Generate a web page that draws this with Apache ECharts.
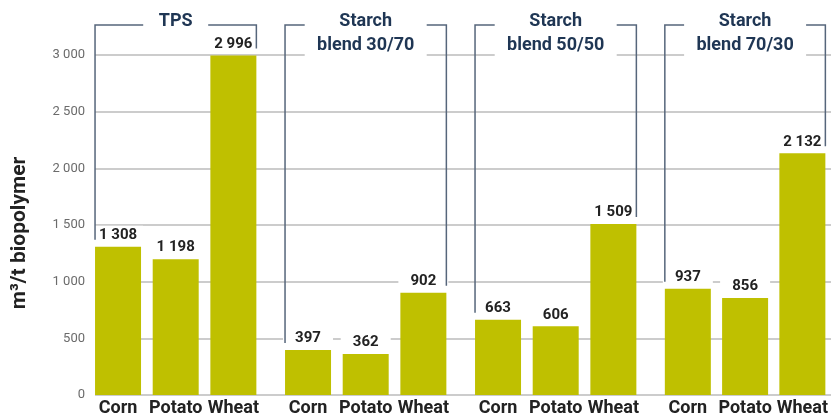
<!DOCTYPE html>
<html>
<head>
<meta charset="utf-8">
<script src="https://cdn.jsdelivr.net/npm/echarts@6/dist/echarts.min.js"></script>
<style>
  html, body { margin: 0; padding: 0; background: #ffffff; }
  #chart { width: 831px; height: 417px; }
</style>
</head>
<body>
<div id="chart"></div>
<script>
// Biogas yield per tonne of biopolymer, by starch source and blend
const categories = ['Corn', 'Potato', 'Wheat'];
const groupTitles = ['TPS', 'Starch\nblend 30/70', 'Starch\nblend 50/50', 'Starch\nblend 70/30'];
const tpsValues = [1308, 1198, 2996];
const blend3070Values = [397, 362, 902];
const blend5050Values = [663, 606, 1509];
const blend7030Values = [937, 856, 2132];
const yAxisName = 'm³/t biopolymer';
const yMin = 0;
const yMax = 3000;
const yStep = 500;

const groups = [tpsValues, blend3070Values, blend5050Values, blend7030Values];

// layout
const FONT = 'Roboto, "Noto Sans", sans-serif';
const GRID_TOP = 55;
const GRID_BOTTOM = 22;
const GROUP_LEFT = 89.2;
const GROUP_PITCH = 190;
const GROUP_WIDTH = 173;
const BAR_WIDTH = 46;
const BAR_COLOR = '#bfc000';
const BRACKET_COLOR = '#56667b';
const TITLE_COLOR = '#1f3654';

const fmt = n => String(n).replace(/\B(?=(\d{3})+(?!\d))/g, ' ');

const grids = [{ left: 95, right: 0, top: GRID_TOP, bottom: GRID_BOTTOM }];
const xAxes = [{ gridIndex: 0, type: 'value', show: false, min: 0, max: 1 }];
const yAxes = [{
  gridIndex: 0,
  type: 'value',
  min: yMin,
  max: yMax,
  interval: yStep,
  axisLine: { show: false },
  axisTick: { show: false },
  axisLabel: { color: '#6b6b6b', fontSize: 13, fontFamily: FONT, margin: 10, formatter: v => fmt(v) },
  splitLine: { lineStyle: { color: '#cccccc', width: 2 } },
  name: yAxisName,
  nameLocation: 'middle',
  nameGap: 65,
  nameTextStyle: { fontSize: 21, fontWeight: 'bold', color: '#222222', fontFamily: FONT, padding: [0, 16, 0, 0] }
}];
const series = [];

groups.forEach((values, i) => {
  const gi = i + 1;
  grids.push({ left: GROUP_LEFT + GROUP_PITCH * i, width: GROUP_WIDTH, top: GRID_TOP, bottom: GRID_BOTTOM });
  xAxes.push({
    gridIndex: gi,
    type: 'category',
    data: categories,
    axisLine: { show: false },
    axisTick: { show: false },
    axisLabel: { color: '#222222', fontSize: 18, fontWeight: 'bold', fontFamily: FONT, margin: 4, interval: 0 }
  });
  yAxes.push({ gridIndex: gi, type: 'value', min: yMin, max: yMax, interval: yStep, show: false });

  series.push({
    type: 'bar',
    xAxisIndex: gi,
    yAxisIndex: gi,
    data: values,
    barWidth: BAR_WIDTH,
    itemStyle: { color: BAR_COLOR },
    z: 2,
    label: {
      show: true,
      position: 'top',
      distance: 3,
      formatter: p => fmt(p.value),
      color: '#222222',
      fontSize: 15,
      fontWeight: 'bold',
      fontFamily: FONT,
      backgroundColor: '#ffffff',
      width: 48,
      align: 'center',
      padding: [2, 1, 1, 1]
    }
  });

  // bracket with the group title above each group
  const title = groupTitles[i];
  series.push({
    type: 'custom',
    xAxisIndex: gi,
    yAxisIndex: gi,
    silent: true,
    clip: false,
    z: 5,
    data: [[0, values[0], values[2]]],
    renderItem: (params, api) => {
      const cs = params.coordSys;
      const half = BAR_WIDTH / 2;
      const first = api.coord([0, api.value(1)]);
      const last = api.coord([categories.length - 1, api.value(2)]);
      const mid = api.coord([1, 0]);
      const topY = cs.y - 30;
      const lines = title.split('\n').length;
      const boxW = lines > 1 ? 122 : 65;
      const boxH = lines > 1 ? 48 : 22;
      return {
        type: 'group',
        children: [
          {
            type: 'polyline',
            shape: { points: [
              [first[0] - half, first[1] - 7],
              [first[0] - half, topY],
              [last[0] + half, topY],
              [last[0] + half, last[1] - 7]
            ] },
            style: { stroke: BRACKET_COLOR, lineWidth: 1.5, fill: null }
          },
          {
            type: 'rect',
            shape: { x: mid[0] - boxW / 2, y: 11, width: boxW, height: boxH },
            style: { fill: '#ffffff' }
          },
          {
            type: 'text',
            style: {
              text: title,
              x: mid[0],
              y: 9,
              align: 'center',
              verticalAlign: 'top',
              fontSize: 18,
              fontWeight: 'bold',
              fontFamily: FONT,
              lineHeight: 24,
              fill: TITLE_COLOR
            }
          }
        ]
      };
    }
  });
});

const chart = echarts.init(document.getElementById('chart'), null, { renderer: 'canvas' });
chart.setOption({
  animation: false,
  backgroundColor: '#ffffff',
  grid: grids,
  xAxis: xAxes,
  yAxis: yAxes,
  series: series
});
</script>
</body>
</html>
